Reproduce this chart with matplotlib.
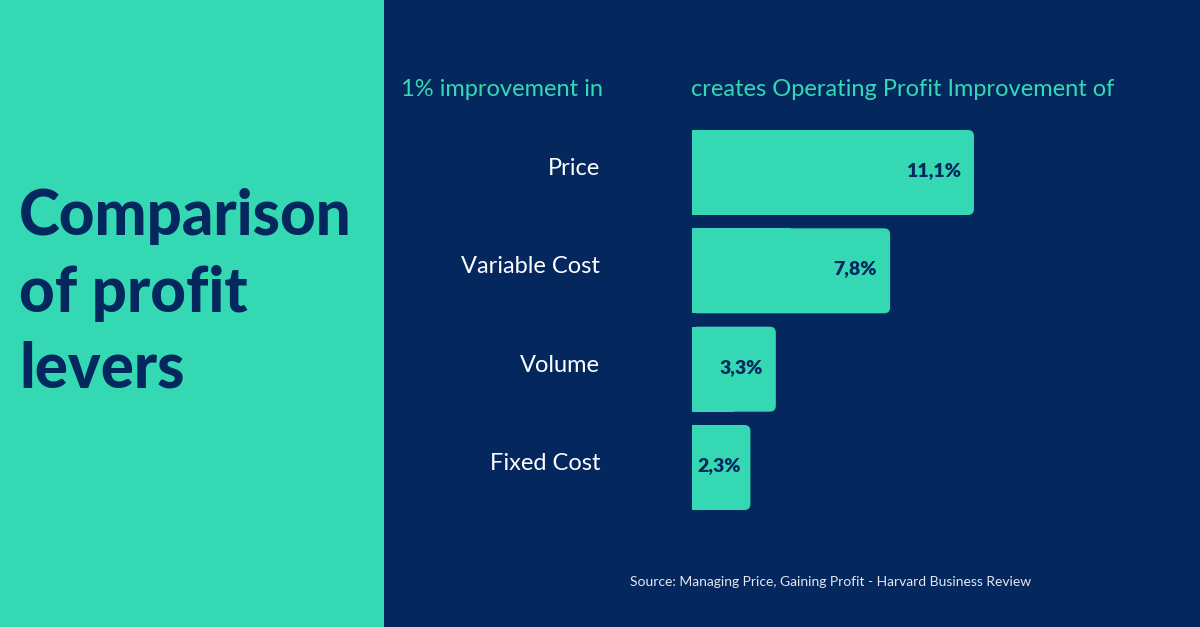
import matplotlib
matplotlib.use("Agg")
import matplotlib.pyplot as plt
from matplotlib.patches import Rectangle, FancyBboxPatch

levers = ["Price", "Variable Cost", "Volume", "Fixed Cost"]
improvement = [11.1, 7.8, 3.3, 2.3]
value_labels = ["11,1%", "7,8%", "3,3%", "2,3%"]
title_lines = ["Comparison", "of profit", "levers"]

teal = "#34D9B4"
navy = "#04275E"
W, H = 1200, 627

plt.rcParams["font.family"] = ["Lato", "DejaVu Sans"]

fig = plt.figure(figsize=(12, 6.27), dpi=100)
fig.patch.set_facecolor(navy)
fig.patches.append(Rectangle((0, 0), 384 / W, 1, transform=fig.transFigure,
                             facecolor=teal, edgecolor="none", zorder=0))

# title on left panel, one baseline per line
for line, base in zip(title_lines, [235, 312, 388]):
    fig.text(19 / W, 1 - base / H, line, color=navy, fontsize=44.5,
             fontweight="black", va="baseline", ha="left")

# headers
fig.text(401 / W, 1 - 89 / H, "1% improvement in", color=teal, fontsize=17,
         va="center", ha="left")
fig.text(691 / W, 1 - 89 / H, "creates Operating Profit Improvement of",
         color=teal, fontsize=17, va="center", ha="left")
fig.text(630 / W, 1 - 582 / H,
         "Source: Managing Price, Gaining Profit - Harvard Business Review",
         color="#E3E8F0", fontsize=10, va="center", ha="left")

# bars axes
step = 98.33
top = 172.5 - 0.5 * step
bot = 467.5 + 0.5 * step
ax = fig.add_axes([692 / W, 1 - bot / H, (W - 692) / W, (bot - top) / H])
ax.set_facecolor("none")
px_per_unit = 25.4
ax.set_xlim(0, (W - 692) / px_per_unit)
ax.set_ylim(len(levers) - 0.5, -0.5)

bh = 85 / step
r_x = 6 / px_per_unit
aspect = px_per_unit / step
for i, v in enumerate(improvement):
    ax.add_patch(FancyBboxPatch((0, i - bh / 2), v, bh,
                                boxstyle=f"round,pad=0,rounding_size={r_x}",
                                mutation_aspect=aspect,
                                facecolor=teal, edgecolor="none"))
    ax.add_patch(Rectangle((0, i - bh / 2), v / 2, bh, facecolor=teal,
                           edgecolor="none"))
    xt = max(v - 13 / px_per_unit, 49 / px_per_unit)
    ax.text(xt, i - 2 / step, value_labels[i], color=navy,
            fontsize=14, fontweight="heavy", ha="right", va="center")
    ax.text(-92 / px_per_unit, i - 4 / step, levers[i], color="white",
            fontsize=17, ha="right", va="center", clip_on=False)

ax.set_xticks([])
ax.set_yticks([])
for s in ax.spines.values():
    s.set_visible(False)

fig.savefig("out.png", dpi=100, facecolor=navy)
